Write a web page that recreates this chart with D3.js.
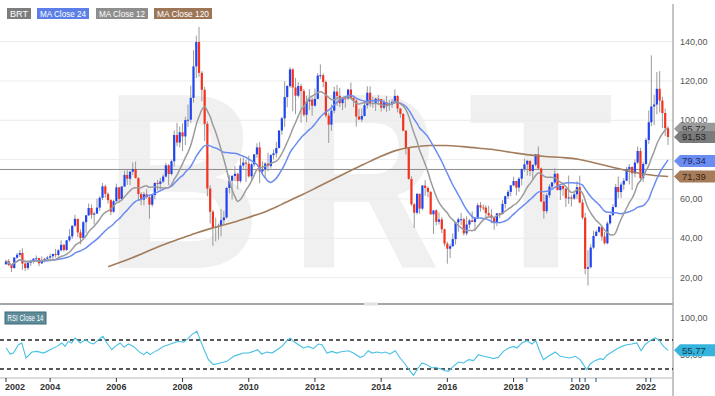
<!DOCTYPE html>
<html>
<head>
<meta charset="utf-8">
<script src="https://cdn.jsdelivr.net/npm/d3@7"></script>
<style>
body{margin:0;background:#fff;}
svg{display:block;font-family:"Liberation Sans",Arial,sans-serif;}
</style>
</head>
<body>
<script>
// monthly candles, Sep 2002 .. Sep 2022
var firstYear=2002, firstMonth=8
var opens=[26.8,28.4,26.4,24.9,
  30.2,31.6,32.5,27.2,24.9,27.6,28.6,29.6,29.9,27.3,28.8,29.6,
  30.2,30.9,32.0,31.6,33.9,36.7,34.1,39.0,41.0,46.4,49.9,43.0,
  40.2,48.2,51.7,55.4,52.0,52.6,55.6,60.6,66.4,62.6,59.4,53.5,
  58.9,65.9,60.0,66.3,72.2,70.3,73.9,75.2,70.6,62.5,59.7,62.4,
  60.9,57.1,62.0,68.1,67.7,68.9,71.4,77.1,72.7,79.2,92.5,88.7,
  93.9,91.8,100.1,100.3,111.4,127.4,139.8,124.1,115.5,98.2,65.3,53.5,
  45.6,45.9,46.4,49.2,50.6,65.6,69.3,71.7,72.8,69.1,77.0,78.5,
  77.9,71.5,77.6,82.7,86.2,74.0,75.0,78.0,76.7,82.3,83.2,85.9,
  94.8,101.0,111.8,117.4,125.9,116.7,112.5,117.4,114.9,102.8,109.6,110.5,
  107.4,110.9,122.7,122.9,119.5,102.4,97.8,104.9,114.6,112.4,108.7,111.2,
  111.1,115.6,111.4,110.0,101.9,100.4,102.2,107.7,114.0,108.4,108.8,111.0,
  110.8,106.4,109.1,107.8,108.1,109.4,112.4,106.0,103.2,94.7,85.9,70.2,
  57.3,53.0,62.6,55.1,66.8,65.6,63.6,52.2,54.2,48.4,49.6,44.6,
  37.3,34.7,36.0,39.6,48.1,49.7,49.7,42.5,47.0,49.1,48.3,50.5,
  56.8,55.7,55.6,52.8,51.7,50.3,47.9,52.7,52.4,57.5,61.4,63.6,
  66.9,69.1,65.8,70.3,75.2,77.6,79.4,74.2,77.4,82.7,75.5,58.7,
  53.8,61.9,66.3,68.4,72.8,64.5,66.6,65.2,60.4,60.8,60.2,62.4,
  66.0,58.2,50.5,24.5,25.3,35.3,41.2,43.3,45.8,40.9,37.5,47.6,
  51.8,55.9,66.1,63.5,67.3,69.3,75.1,76.3,73.0,78.5,84.4,70.6,
  77.8,90.0,99.0,107.0,108.0,116.0,110.0,103.7,96.0]
var highs=[29.1,29.5,26.9,30.5,
  32.6,34.0,34.9,27.8,28.6,29.1,30.0,31.3,30.0,30.8,30.1,31.1,
  32.2,32.3,34.6,34.5,39.0,37.0,39.1,44.6,46.5,52.0,50.0,44.5,
  48.9,51.9,57.7,57.2,53.5,60.1,61.4,68.1,67.3,63.3,60.0,59.6,
  67.8,66.0,66.7,74.3,74.6,74.0,78.6,79.0,71.0,63.5,63.5,65.0,
  61.5,62.2,68.5,69.7,70.7,72.5,78.4,77.7,80.0,94.8,98.7,96.8,
  98.5,101.8,108.0,117.6,135.6,143.0,147.5,125.0,117.0,99.5,67.0,54.4,
  50.5,47.5,54.9,54.0,66.0,72.1,72.2,76.8,73.4,81.0,81.2,80.0,
  82.0,78.3,82.7,88.3,88.9,79.1,78.7,83.5,82.8,85.2,89.0,95.0,
  101.7,119.8,117.9,127.0,126.5,121.5,119.3,118.5,116.0,112.5,115.8,111.5,
  116.1,124.0,128.4,123.8,120.2,103.8,108.0,117.0,117.9,116.5,111.9,111.7,
  116.0,119.2,112.0,111.3,105.9,106.0,109.5,117.3,117.3,112.0,111.5,112.8,
  110.9,110.6,112.4,110.3,110.8,115.7,112.7,106.1,103.7,95.0,86.2,71.6,
  57.9,63.0,62.8,67.1,69.6,66.3,64.0,54.2,54.8,53.1,50.8,45.0,
  38.3,37.1,42.5,48.5,50.5,52.9,50.5,51.2,49.9,53.7,50.7,57.9,
  58.4,57.2,56.8,56.6,54.7,50.6,52.7,52.9,59.5,61.7,64.6,67.1,
  71.3,69.2,71.2,75.5,80.5,79.9,79.4,77.5,82.9,86.7,76.0,62.5,
  63.0,67.5,68.6,75.6,73.2,66.8,67.6,65.6,71.9,62.1,64.2,68.9,
  71.8,59.8,53.0,34.0,37.0,43.9,44.3,46.2,46.0,43.2,48.6,52.5,
  57.4,67.7,71.4,68.5,70.6,76.2,77.8,76.5,80.1,86.7,86.0,79.0,
  91.0,105.0,133.0,113.0,124.5,125.0,112.0,106.0,97.0]
var lows=[26.6,25.8,22.9,24.6,
  29.5,30.5,23.9,23.3,23.9,26.0,27.2,28.5,25.8,27.0,27.7,28.6,
  29.2,28.8,30.3,30.6,33.4,33.2,33.5,38.2,39.7,45.8,40.6,37.0,
  39.9,42.7,51.3,49.9,47.0,52.4,54.0,59.4,60.6,57.6,51.8,53.0,
  58.4,58.1,59.1,66.1,67.1,67.1,72.3,70.5,59.3,56.8,56.8,60.2,
  49.9,56.0,59.8,64.3,64.8,68.0,71.0,67.0,72.0,76.5,86.8,86.1,
  84.3,87.4,96.6,98.6,108.9,121.5,122.1,109.7,89.5,61.3,47.5,36.2,
  38.5,39.4,41.0,47.3,50.0,62.9,59.7,69.0,64.9,68.2,75.2,68.6,
  70.9,69.6,76.4,80.9,68.0,72.2,70.4,74.1,75.5,80.2,81.1,85.7,
  92.6,96.6,106.6,116.5,104.6,103.1,111.6,98.7,101.8,99.0,105.2,102.3,
  107.0,110.6,120.9,116.8,101.3,88.5,94.6,103.5,107.3,106.7,105.2,106.4,
  110.4,111.2,106.6,96.8,100.1,99.2,101.9,105.9,106.8,106.4,104.7,107.7,
  104.5,105.5,104.3,104.9,106.3,108.2,104.0,101.2,94.4,82.6,69.8,56.5,
  45.2,52.1,52.5,54.3,61.6,60.9,52.1,42.2,46.6,47.0,42.6,36.0,
  27.1,30.0,35.6,36.8,43.3,46.7,41.5,41.5,45.0,48.3,43.6,50.5,
  53.6,54.2,50.3,50.6,47.6,44.4,46.2,50.3,52.1,55.1,60.0,61.4,
  66.5,61.8,63.6,66.9,73.9,71.9,71.8,70.3,76.5,74.6,58.4,50.0,
  52.6,60.6,64.6,67.5,64.4,59.5,61.6,55.9,57.5,56.2,59.6,60.1,
  57.7,49.5,21.7,15.98,24.7,34.6,41.0,42.6,38.8,36.9,36.9,46.9,
  51.3,55.6,60.3,60.6,64.7,69.0,67.4,64.6,71.0,77.7,68.6,68.6,
  77.0,88.0,97.0,97.5,103.0,104.0,96.0,92.0,87.5]
var closes=[28.4,26.4,24.9,30.2,
  31.6,32.5,27.2,24.9,27.6,28.6,29.6,29.9,27.3,28.8,29.6,30.2,
  30.9,32.0,31.6,33.9,36.7,34.1,39.0,41.0,46.4,49.9,43.0,40.2,
  48.2,51.7,55.4,52.0,52.6,55.6,60.6,66.4,62.6,59.4,53.5,58.9,
  65.9,60.0,66.3,72.2,70.3,73.9,75.2,70.6,62.5,59.7,62.4,60.9,
  57.1,62.0,68.1,67.7,68.9,71.4,77.1,72.7,79.2,92.5,88.7,93.9,
  91.8,100.1,100.3,111.4,127.4,139.8,124.1,115.5,98.2,65.3,53.5,45.6,
  45.9,46.4,49.2,50.6,65.6,69.3,71.7,72.8,69.1,77.0,78.5,77.9,
  71.5,77.6,82.7,86.2,74.0,75.0,78.0,76.7,82.3,83.2,85.9,94.8,
  101.0,111.8,117.4,125.9,116.7,112.5,117.4,114.9,102.8,109.6,110.5,107.4,
  110.9,122.7,122.9,119.5,102.4,97.8,104.9,114.6,112.4,108.7,111.2,111.1,
  115.6,111.4,110.0,101.9,100.4,102.2,107.7,114.0,108.4,108.8,111.0,110.8,
  106.4,109.1,107.8,108.1,109.4,112.4,106.0,103.2,94.7,85.9,70.2,57.3,
  53.0,62.6,55.1,66.8,65.6,63.6,52.2,54.2,48.4,49.6,44.6,37.3,
  34.7,36.0,39.6,48.1,49.7,49.7,42.5,47.0,49.1,48.3,50.5,56.8,
  55.7,55.6,52.8,51.7,50.3,47.9,52.7,52.4,57.5,61.4,63.6,66.9,
  69.1,65.8,70.3,75.2,77.6,79.4,74.2,77.4,82.7,75.5,58.7,53.8,
  61.9,66.3,68.4,72.8,64.5,66.6,65.2,60.4,60.8,60.2,62.4,66.0,
  58.2,50.5,24.5,25.3,35.3,41.2,43.3,45.8,40.9,37.5,47.6,51.8,
  55.9,66.1,63.5,67.3,69.3,75.1,76.3,73.0,78.5,84.4,70.6,77.8,
  90.0,99.0,107.0,108.0,116.0,110.0,103.7,96.0,91.53]

// MA 120 (year, value)
var ma120Years=[2005.79,2006.5,2007.0,2007.5,2008.0,2008.5,2009.0,2009.5,2010.0,2010.5,2011.0,2011.5,2012.0,2012.5,2013.0,2013.5,2014.0,2014.5,2015.0,2015.5,2016.0,2016.5,2017.0,2017.5,2018.0,2018.5,2019.0,2019.5,2020.0,2020.5,2021.0,2021.5,2022.0,2022.71]
var ma120Values=[25.6,30.0,33.5,37.0,40.0,43.0,45.5,47.8,50.5,53.3,57.0,61.0,65.0,69.3,73.5,77.5,81.5,84.7,86.4,87.2,87.2,86.6,85.8,84.9,83.6,82.4,81.6,81.1,80.2,78.3,76.3,74.2,72.6,71.39]

// RSI 14
var rsiYears=[2002.71,2002.83,2002.93,2003.08,2003.18,2003.31,2003.49,2003.64,2003.84,2004.04,
  2004.24,2004.39,2004.49,2004.59,2004.69,2004.79,2004.95,2005.10,2005.25,2005.35,
  2005.50,2005.63,2005.75,2005.90,2006.00,2006.15,2006.27,2006.40,2006.56,2006.71,
  2006.86,2006.96,2007.06,2007.21,2007.31,2007.46,2007.61,2007.76,2007.92,2008.07,
  2008.17,2008.32,2008.47,2008.57,2008.69,2008.82,2008.97,2009.18,2009.38,2009.58,
  2009.73,2009.88,2010.03,2010.18,2010.30,2010.43,2010.59,2010.74,2010.89,2011.04,
  2011.17,2011.29,2011.39,2011.54,2011.69,2011.84,2011.99,2012.14,2012.25,2012.40,
  2012.55,2012.70,2012.80,2013.05,2013.20,2013.40,2013.50,2013.65,2013.76,2013.91,
  2014.06,2014.16,2014.31,2014.46,2014.61,2014.76,2014.92,2015.02,2015.12,2015.27,
  2015.42,2015.57,2015.67,2015.82,2015.97,2016.07,2016.22,2016.37,2016.53,2016.68,
  2016.83,2016.98,2017.13,2017.28,2017.43,2017.58,2017.73,2017.89,2018.04,2018.14,
  2018.29,2018.44,2018.59,2018.71,2018.81,2018.94,2019.09,2019.30,2019.45,2019.60,
  2019.75,2019.90,2020.05,2020.15,2020.25,2020.35,2020.50,2020.65,2020.75,2020.86,
  2021.01,2021.16,2021.31,2021.46,2021.61,2021.76,2021.89,2022.01,2022.16,2022.31,
  2022.42,2022.57,2022.71]
var rsiValues=[59,50.7,52,63.5,65.9,45.2,53.4,54.3,52,56.6,
  61.2,65.9,61.2,68.2,65.9,72.8,65.9,70.5,65.9,64.5,
  70.5,75,65.9,56.6,61.2,65.9,59.9,64.5,61.2,54.3,
  49.8,53.4,49.8,54.3,56.6,61.2,63.5,65.9,68.2,67,
  70.5,77.4,82,70.5,56.6,42.9,36,38.3,40.6,47.5,
  49.8,52,52,54.3,56.6,50.7,53.4,52,56.6,61.2,
  68.2,72.8,68.2,63.5,59,61.2,58,64.5,63.5,52,
  54.3,52,53.4,55.2,52,46.1,47.5,55.2,52,53.4,
  52,53.4,50.7,55.2,45.2,36.9,26.8,21.3,29,38.3,
  36,31.4,32.3,30.4,27.6,26.8,33.7,39.7,38.3,42.9,
  41.5,49.8,47.5,46.1,44.3,46.1,54.3,59,61.2,59,
  65.9,69.1,64.5,69.1,56.6,42.9,47.5,53.4,47.5,46.1,
  45.2,47.5,42.9,36,29,36.9,41.5,44.3,42.9,49,
  53.4,58,61.2,63.5,64.5,65.9,55.2,63.5,69.1,72.8,
  70.5,61.2,55.77]

var priceTicks=[20,40,60,80,100,120,140]
var priceLabels=[20,40,60,100,120,140]
var rsiTicks=[50,100]
var rsiBands=[70,30]
var yearTicks=[2004,2006,2008,2010,2012,2014,2016,2018,2020,2022]
var eventMarks=[2018.44,2019.80,2020.20,2020.53,2022.18]
var levelLine=75
var lastMa12=95.72, lastClose=91.53, lastMa24=79.34, lastMa120=71.39, lastRsi=55.77

var W=715, H=396, axisX=673
var fmt=d3.formatLocale({decimal:",",thousands:".",grouping:[3],currency:["",""]}).format(".2f")

var dates=closes.map(function(d,i){return new Date(firstYear,firstMonth+i,15)})
var yearDate=function(y){var yr=Math.floor(y);return new Date(new Date(yr,0,1).getTime()+(y-yr)*365.25*864e5)}

var movingAvg=function(vals,n){
  return vals.map(function(v,i){return d3.mean(vals.slice(Math.max(0,i-n+1),i+1))})}
var ma12=movingAvg(closes,12)
var ma24=movingAvg(closes,24)

var x=d3.scaleTime().domain([dates[0],dates[dates.length-1]]).range([6,668])
var y=d3.scaleLinear().domain([0,140]).range([317,41.6])
var yR=d3.scaleLinear().domain([30,70]).range([369,340])

var svg=d3.select("body").append("svg").attr("width",W).attr("height",H)

// watermark
var wm=svg.append("g").attr("fill","#f0f0f0").attr("font-weight","bold").attr("font-size",251)
wm.append("text").attr("transform","translate(104,268) scale(0.87,1)").text("B")
wm.append("text").attr("transform","translate(290,268) scale(0.83,1)").text("R")
wm.append("text").attr("transform","translate(468,268) scale(0.95,1)").text("T")

// grid
svg.append("g").selectAll("line").data(priceTicks).enter().append("line")
  .attr("x1",0).attr("x2",axisX).attr("y1",function(d){return y(d)}).attr("y2",function(d){return y(d)})
  .attr("stroke","#ebebeb").attr("stroke-width",1)

// horizontal level
svg.append("line").attr("x1",0).attr("x2",axisX).attr("y1",y(levelLine)).attr("y2",y(levelLine))
  .attr("stroke","#8c8c8c").attr("stroke-width",1)

// candles
var candles=svg.append("g")
candles.selectAll("line").data(closes).enter().append("line")
  .attr("x1",function(d,i){return x(dates[i])}).attr("x2",function(d,i){return x(dates[i])})
  .attr("y1",function(d,i){return y(highs[i])}).attr("y2",function(d,i){return y(lows[i])})
  .attr("stroke","#9a9a9a").attr("stroke-width",1)
candles.selectAll("rect").data(closes).enter().append("rect")
  .attr("x",function(d,i){return x(dates[i])-1.1})
  .attr("width",2.2)
  .attr("y",function(d,i){return y(Math.max(d,opens[i]))})
  .attr("height",function(d,i){return Math.max(1,Math.abs(y(d)-y(opens[i])))})
  .attr("fill",function(d,i){return d>=opens[i]?"#1f44f2":"#f5321e"})

// moving averages
var line=d3.line().x(function(d){return x(d[0])}).y(function(d){return y(d[1])}).curve(d3.curveMonotoneX)
svg.append("path").datum(ma120Years.map(function(d,i){return [yearDate(d),ma120Values[i]]}))
  .attr("d",line).attr("fill","none").attr("stroke","#a37c5c").attr("stroke-width",1.6)
svg.append("path").datum(dates.map(function(d,i){return [d,ma24[i]]}))
  .attr("d",line).attr("fill","none").attr("stroke","#6a8cf0").attr("stroke-width",1.5)
svg.append("path").datum(dates.map(function(d,i){return [d,ma12[i]]}))
  .attr("d",line).attr("fill","none").attr("stroke","#9b9b9b").attr("stroke-width",1.5)

// legend
var legend=[["BRT","#7d7d7d",7,24],["MA Close 24","#5b7fe6",37,52],["MA Close 12","#8d8d8d",96,52],["MA Close 120","#9c7657",154,58]]
var lg=svg.append("g")
legend.forEach(function(d){
  lg.append("rect").attr("x",d[2]).attr("y",8).attr("width",d[3]).attr("height",11).attr("fill",d[1])
  lg.append("text").attr("x",d[2]+3).attr("y",17).attr("font-size",9).attr("fill","#fff")
    .attr("textLength",d[3]-6).attr("lengthAdjust","spacingAndGlyphs").text(d[0])})

// right axis
svg.append("line").attr("x1",axisX).attr("x2",axisX).attr("y1",4).attr("y2",H).attr("stroke","#8a8a8a")
svg.append("g").selectAll("text").data(priceLabels).enter().append("text")
  .attr("x",680).attr("y",function(d){return y(d)+3}).attr("font-size",9).attr("fill","#555")
  .text(function(d){return fmt(d)})

var tag=function(v,scale,fill,txt){
  var ty=scale(v)
  svg.append("path").attr("d","M"+(axisX+1)+","+ty+"L"+(axisX+7)+","+(ty-6)+"L715,"+(ty-6)+"L715,"+(ty+6)+"L"+(axisX+7)+","+(ty+6)+"Z")
    .attr("fill",fill)
  svg.append("text").attr("x",682).attr("y",ty+3.5).attr("font-size",9.5).attr("fill",txt).text(fmt(v))}
tag(lastMa12,y,"#9a9a9a","#333")
tag(lastClose,y,"#7b7b7b","#222")
tag(lastMa24,y,"#6b8cf0","#1a2a66")
tag(lastMa120,y,"#a67c5b","#3a2615")

// panel separator
svg.append("line").attr("x1",0).attr("x2",axisX).attr("y1",304).attr("y2",304).attr("stroke","#a5a5a5").attr("stroke-width",2)
svg.append("rect").attr("x",364).attr("y",302.5).attr("width",14).attr("height",3).attr("fill","#e2e2e2")

// RSI panel
svg.append("rect").attr("x",5).attr("y",312).attr("width",41).attr("height",12).attr("fill","#5e8c99").attr("stroke","#3f6b78")
svg.append("text").attr("x",7.5).attr("y",321).attr("font-size",8.5).attr("fill","#fff")
  .attr("textLength",36).attr("lengthAdjust","spacingAndGlyphs").text("RSI Close 14")
svg.append("g").selectAll("line").data(rsiBands).enter().append("line")
  .attr("x1",0).attr("x2",axisX).attr("y1",function(d){return yR(d)}).attr("y2",function(d){return yR(d)})
  .attr("stroke","#222").attr("stroke-width",1.4).attr("stroke-dasharray","4,3")
svg.append("path").datum(rsiYears.map(function(d,i){return [yearDate(d),rsiValues[i]]}))
  .attr("d",d3.line().x(function(d){return x(d[0])}).y(function(d){return yR(d[1])}))
  .attr("fill","none").attr("stroke","#47c0e4").attr("stroke-width",1.1)
svg.append("g").selectAll("text").data(rsiTicks).enter().append("text")
  .attr("x",680).attr("y",function(d){return yR(d)+3}).attr("font-size",9).attr("fill","#555")
  .text(function(d){return fmt(d)})
tag(lastRsi,yR,"#36b4de","#0d3a4d")

// time axis
svg.append("line").attr("x1",0).attr("x2",axisX).attr("y1",378).attr("y2",378).attr("stroke","#b5b5b5")
var xt=svg.append("g")
xt.selectAll("line.yr").data(yearTicks).enter().append("line")
  .attr("x1",function(d){return x(new Date(d,0,15))}).attr("x2",function(d){return x(new Date(d,0,15))})
  .attr("y1",378).attr("y2",382).attr("stroke","#333")
xt.selectAll("line.ev").data(eventMarks).enter().append("line")
  .attr("x1",function(d){return x(yearDate(d))}).attr("x2",function(d){return x(yearDate(d))})
  .attr("y1",378).attr("y2",382).attr("stroke","#1f4f7a")
xt.append("line").attr("x1",x(dates[0])).attr("x2",x(dates[0])).attr("y1",378).attr("y2",382).attr("stroke","#333")
xt.selectAll("text").data(yearTicks).enter().append("text")
  .attr("x",function(d){return x(new Date(d,0,15))}).attr("y",390).attr("text-anchor","middle")
  .attr("font-size",9).attr("font-weight","bold").attr("fill","#333").text(function(d){return d})
xt.append("text").attr("x",5).attr("y",390).attr("font-size",9).attr("font-weight","bold").attr("fill","#333").text(firstYear)
</script>
</body>
</html>
